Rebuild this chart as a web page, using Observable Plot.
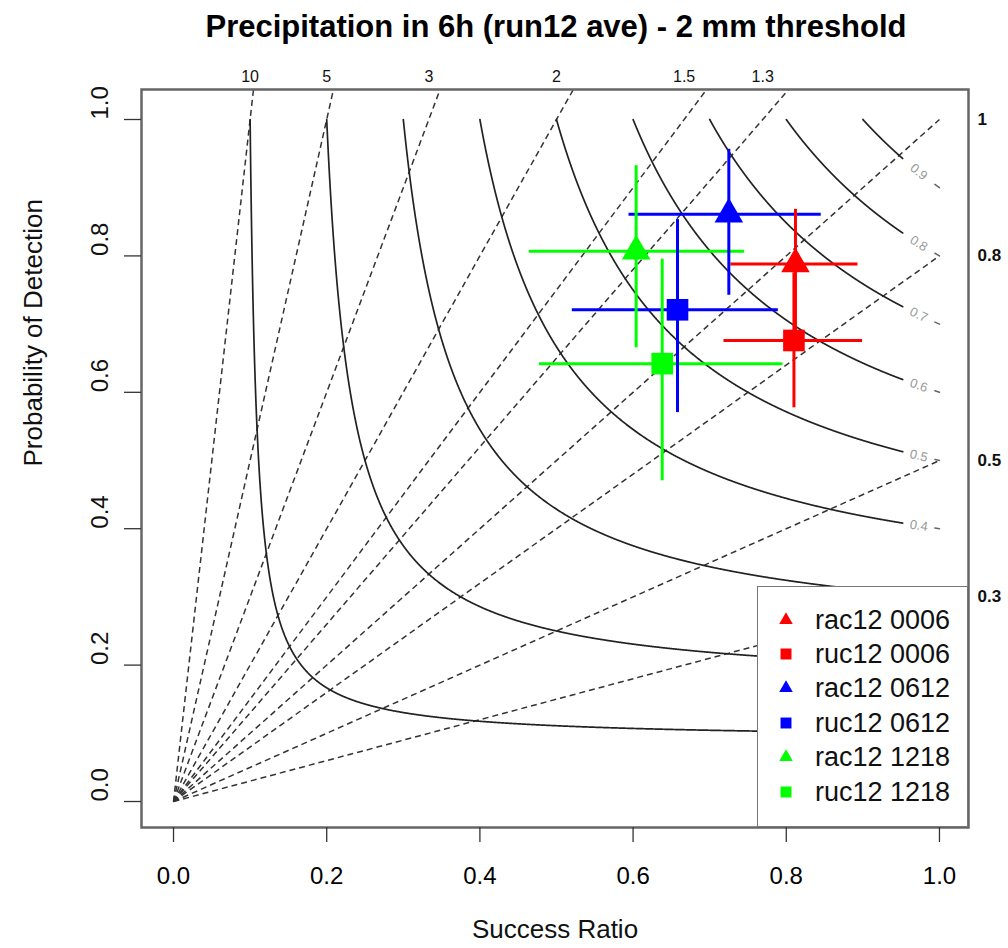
<!DOCTYPE html>
<html><head><meta charset="utf-8">
<script src="https://cdn.jsdelivr.net/npm/d3@7"></script>
<script src="https://cdn.jsdelivr.net/npm/@observablehq/plot@0.6"></script>
<style>
body{margin:0;background:#fff;font-family:"Liberation Sans",Arial,sans-serif;}
#wrap{position:relative;width:1008px;height:948px;overflow:hidden;background:#fff;}
#title{position:absolute;top:11px;left:556px;transform:translateX(-50%);white-space:nowrap;font-weight:bold;font-size:31px;line-height:31px;color:#000;}
#chart{position:absolute;top:50px;left:0;}
#legend{position:absolute;left:757px;top:586px;width:211px;height:241px;box-sizing:border-box;background:#fff;border:1.5px solid #777;}
.lrow{position:absolute;left:0;height:30px;display:flex;align-items:center;}
.lrow svg{position:absolute;left:17px;}
.lrow span{position:absolute;left:57px;font-size:27px;white-space:nowrap;line-height:30px;color:#111;}
</style></head>
<body>
<div id="wrap">
  <div id="title"></div>
  <div id="chart"></div>
  <div id="legend"></div>
</div>
<script>
// ---- data ----
const titleText = "Precipitation in 6h (run12 ave) - 2 mm threshold";
const series = ["rac12 0006","ruc12 0006","rac12 0612","ruc12 0612","rac12 1218","ruc12 1218"];
const colors = ["#ff0000","#ff0000","#0000ff","#0000ff","#00ff00","#00ff00"];
const shapes = ["triangle","square","triangle","square","triangle","square"];
const sr    = [0.812,0.810,0.725,0.658,0.604,0.638];
const pod   = [0.788,0.676,0.861,0.721,0.807,0.642];
const srLo  = [0.727,0.718,0.594,0.520,0.464,0.477];
const srHi  = [0.893,0.899,0.845,0.789,0.745,0.795];
const podLo = [0.691,0.578,0.743,0.571,0.666,0.471];
const podHi = [0.869,0.776,0.957,0.854,0.933,0.796];
const biasLevels = [10,5,3,2,1.5,1.3,1,0.8,0.5,0.3];
const topBiasLabels = [10,5,3,2,1.5,1.3];
const rightBiasLabels = [1,0.8,0.5,0.3];
const csiLevels = [0.1,0.2,0.3,0.4,0.5,0.6,0.7,0.8,0.9];
const axisTicks = [0,0.2,0.4,0.6,0.8,1];

// ---- derived tables ----
const pts = series.map((s,i)=>({s, color:colors[i], shape:shapes[i], sr:sr[i], pod:pod[i],
  srLo:srLo[i], srHi:srHi[i], podLo:podLo[i], podHi:podHi[i]}));
const csiPod = (c, s) => 1/(1/c + 1 - 1/s);
const srEnd = 0.952, srLab = 0.973, srTail = 0.994;
const contour = [];
const tails = [];
for (const c of csiLevels) {
  const n = 1500;
  for (let k=0;k<=n;k++){ const u=k/n; const s = c + (srEnd-c)*u*u; contour.push({c, x:s, y:csiPod(c,s)}); }
  tails.push({c, x:srTail, y:csiPod(c,srTail)}, {c, x:1, y:csiPod(c,1)});
}
const xpx = 766, ypx = 682;
const labAngle = c => { const p = csiPod(c,srLab); const slope = p*p/(srLab*srLab); return Math.atan(slope*ypx/xpx)*180/Math.PI; };

document.getElementById("title").textContent = titleText;

const fmt1 = d3.format(".1f");
const plot = Plot.plot({
  width: 1008, height: 898,
  marginLeft: 141, marginRight: 40, marginTop: 39, marginBottom: 121,
  style: {fontFamily: '"Liberation Sans", Arial, sans-serif', background: "#fff", color: "#000"},
  x: {domain: [-0.0418, 1.0379]},
  y: {domain: [-0.0381, 1.044]},
  color: {type: "identity"},
  marks: [
    Plot.link(biasLevels, {x1: 0, y1: 0, x2: 1, y2: d=>d, stroke: "#333", strokeWidth: 1.5, strokeDasharray: "6,4", clip: true}),
    Plot.line(contour, {x: "x", y: "y", z: "c", stroke: "#222", strokeWidth: 1.7, clip: true}),
    Plot.line(tails, {x: "x", y: "y", z: "c", stroke: "#666", strokeWidth: 1.5}),
    Plot.text(csiLevels, {x: srLab, y: c=>csiPod(c,srLab), text: c=>String(c), rotate: labAngle, fill: "#9a9a9a", fontSize: 13}),
    Plot.link(pts, {x1: "srLo", x2: "srHi", y1: "pod", y2: "pod", stroke: "color", strokeWidth: 3}),
    Plot.link(pts, {x1: "sr", x2: "sr", y1: "podLo", y2: "podHi", stroke: "color", strokeWidth: 3}),
    Plot.dot(pts.filter(d=>d.shape==="triangle"), {x: "sr", y: "pod", symbol: "triangle", r: 10.6, fill: "color", stroke: "none"}),
    Plot.dot(pts.filter(d=>d.shape==="square"), {x: "sr", y: "pod", symbol: "square", r: 12.2, fill: "color", stroke: "none"}),
    Plot.frame({stroke: "#666", strokeWidth: 2.5}),
    Plot.axisX({ticks: axisTicks, tickSize: 15, tickPadding: 24, tickFormat: fmt1, fontSize: 24, label: null, stroke: "#333", strokeWidth: 1.3}),
    Plot.axisY({ticks: axisTicks, tickSize: 17, tickFormat: () => "", label: null, stroke: "#333", strokeWidth: 1.3}),
    Plot.text(axisTicks, {y: d=>d, frameAnchor: "left", dx: -41, rotate: -90, text: fmt1, fontSize: 24, fill: "#111"}),
    Plot.text(topBiasLabels, {x: d=>1/d, frameAnchor: "top", dy: -19, text: d=>String(d), fontSize: 16, fill: "#111"}),
    Plot.text(rightBiasLabels, {y: d=>d, frameAnchor: "right", dx: 9, textAnchor: "start", text: d=>String(d), fontSize: 17, fontWeight: "bold", fill: "#111"}),
    Plot.text(["Success Ratio"], {frameAnchor: "bottom", dy: 110, text: d=>d, fontSize: 26, fill: "#111"}),
    Plot.text(["Probability of Detection"], {frameAnchor: "left", dx: -108, dy: 8, rotate: -90, text: d=>d, fontSize: 26, fill: "#111"})
  ]
});
document.getElementById("chart").appendChild(plot);

// ---- legend ----
const leg = document.getElementById("legend");
pts.forEach((d,i)=>{
  const row = document.createElement("div");
  row.className = "lrow";
  row.style.top = (34 + i*34.4 - 15 - 1.5) + "px";
  const sym = d3.symbol(d.shape==="triangle" ? d3.symbolTriangle : d3.symbolSquare, d.shape==="triangle" ? 80 : 120)();
  row.innerHTML = `<svg width="22" height="30" viewBox="-11 -15 22 30"><path d="${sym}" fill="${d.color}"/></svg><span>${d.s}</span>`;
  leg.appendChild(row);
});
</script>
</body></html>
